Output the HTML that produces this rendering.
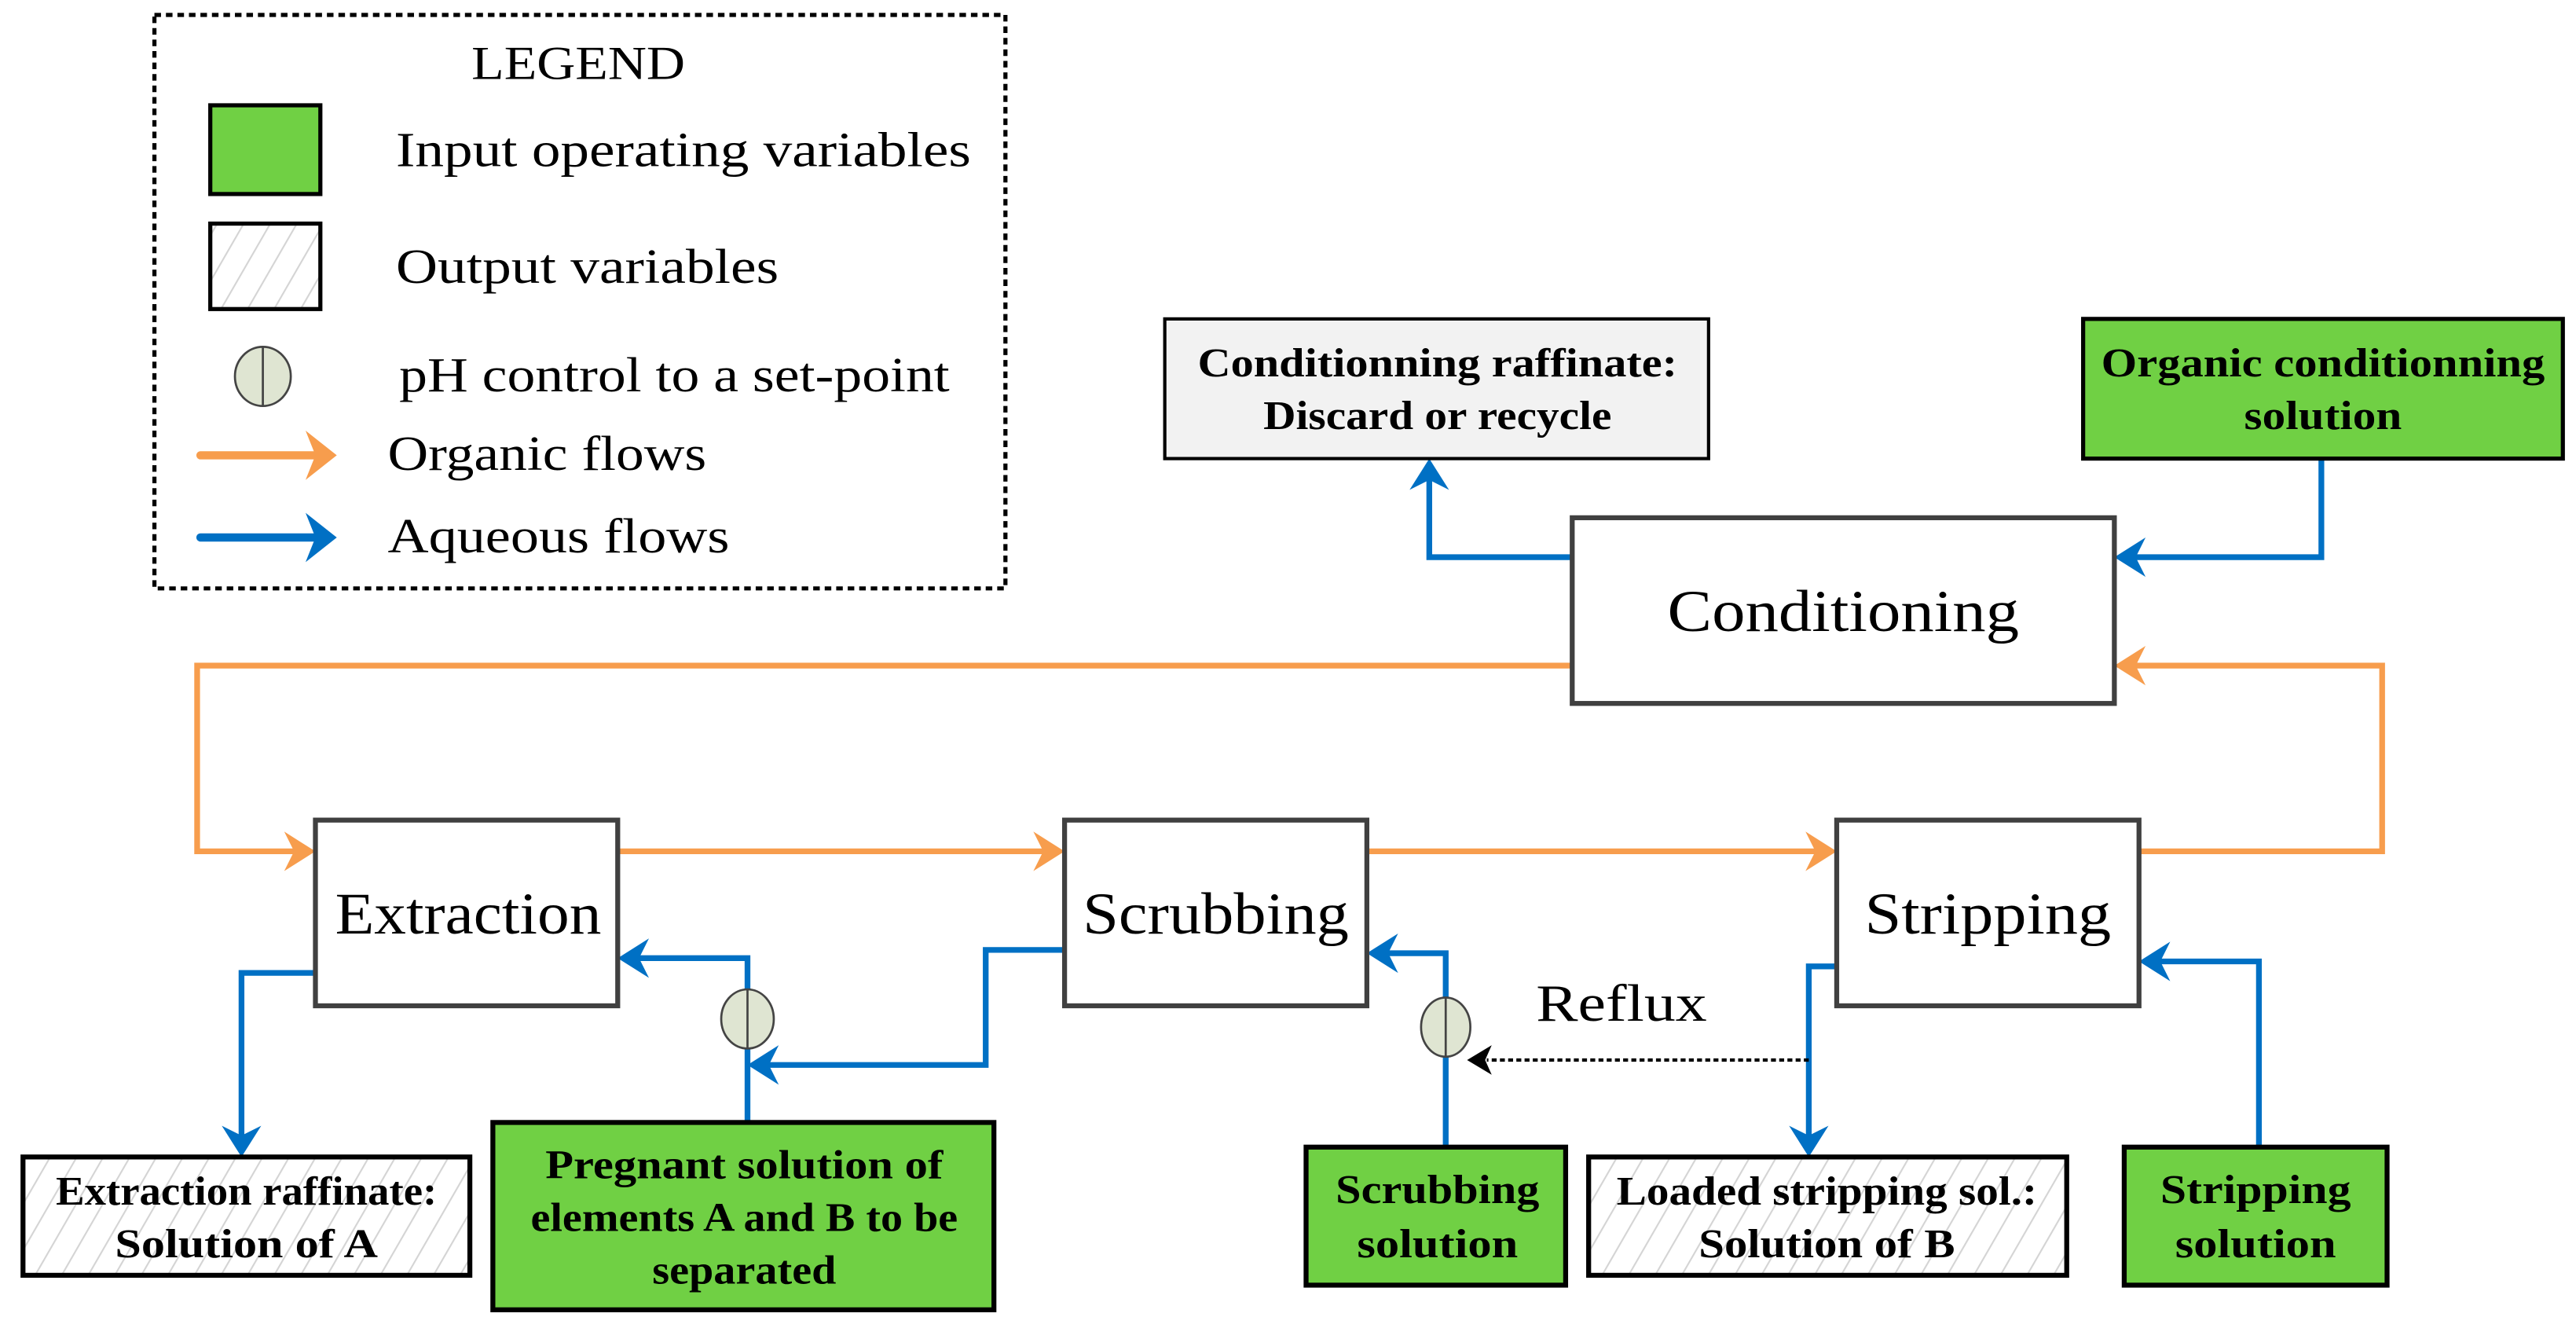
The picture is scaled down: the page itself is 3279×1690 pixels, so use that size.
<!DOCTYPE html>
<html><head><meta charset="utf-8"><style>html,body{margin:0;padding:0;background:#fff}svg{display:block}</style></head>
<body>
<svg width="3279" height="1690" viewBox="0 0 1568 808" xmlns="http://www.w3.org/2000/svg" font-family="Liberation Serif, serif">
<defs>
<pattern id="h" width="14" height="14" patternUnits="userSpaceOnUse" patternTransform="rotate(30)">
<rect width="14" height="14" fill="#fff"/><line x1="0" y1="0" x2="0" y2="14" stroke="#d4d4d4" stroke-width="2"/></pattern>
<marker id="ao" markerWidth="10" markerHeight="10" refX="9" refY="5" orient="auto" markerUnits="userSpaceOnUse" viewBox="0 0 10 10"></marker>
</defs>
<g fill="none" stroke-linecap="butt">
<!-- legend -->
<rect x="94" y="9" width="518" height="349" stroke="#000" stroke-width="2.5" stroke-dasharray="4,3"/>
</g>
<text x="352" y="48" font-size="29" text-anchor="middle" textLength="130" lengthAdjust="spacingAndGlyphs">LEGEND</text>
<rect x="128" y="64" width="67" height="54" fill="#70d044" stroke="#000" stroke-width="2.5"/>
<rect x="128" y="136" width="67" height="52" fill="url(#h)" stroke="#000" stroke-width="2.5"/>
<ellipse cx="160" cy="229" rx="17" ry="18" fill="#dfe5d2" stroke="#444" stroke-width="1.3"/>
<line x1="160" y1="211" x2="160" y2="247" stroke="#444" stroke-width="1.3"/>
<text x="241" y="101" font-size="30" textLength="350" lengthAdjust="spacingAndGlyphs">Input operating variables</text>
<text x="241" y="172" font-size="30" textLength="233" lengthAdjust="spacingAndGlyphs">Output variables</text>
<text x="243" y="238" font-size="30" textLength="335" lengthAdjust="spacingAndGlyphs">pH control to a set-point</text>
<text x="236" y="286" font-size="30" textLength="194" lengthAdjust="spacingAndGlyphs">Organic flows</text>
<text x="236" y="336" font-size="30" textLength="208" lengthAdjust="spacingAndGlyphs">Aqueous flows</text>
<line x1="122" y1="277" x2="195" y2="277" stroke="#f79d4d" stroke-width="5" stroke-linecap="round"/>
<polygon points="205,277 186,262 192,277 186,292" fill="#f79d4d"/>
<line x1="122" y1="327" x2="195" y2="327" stroke="#0070c4" stroke-width="5" stroke-linecap="round"/>
<polygon points="205,327 186,312 192,327 186,342" fill="#0070c4"/>

<!-- orange flows -->
<g fill="none" stroke="#f79d4d" stroke-width="3.5">
<polyline points="957,405 120,405 120,518 185,518"/>
<polyline points="376,518 641,518"/>
<polyline points="832,518 1111,518"/>
<polyline points="1302,518 1450,518 1450,405 1294,405"/>
</g>
<g fill="#f79d4d">
<polygon points="192,518 173,506 179,518 173,530"/>
<polygon points="648,518 629,506 635,518 629,530"/>
<polygon points="1118,518 1099,506 1105,518 1099,530"/>
<polygon points="1287,405 1306,393 1300,405 1306,417"/>
</g>
<!-- blue flows -->
<g fill="none" stroke="#0070c4" stroke-width="3.5">
<polyline points="1413,279 1413,339 1294,339"/>
<polyline points="957,339 870,339 870,287"/>
<polyline points="192,592 147,592 147,697"/>
<polyline points="455,683 455,583 383,583"/>
<polyline points="648,578 600,578 600,648 462,648"/>
<polyline points="880,698 880,580 839,580"/>
<polyline points="1118,588 1101,588 1101,697"/>
<polyline points="1375,698 1375,585 1309,585"/>
</g>
<g fill="#0070c4">
<polygon points="1287,339 1306,327 1300,339 1306,351"/>
<polygon points="870,279 858,298 870,292 882,298"/>
<polygon points="147,704 135,685 147,691 159,685"/>
<polygon points="376,583 395,571 389,583 395,595"/>
<polygon points="455,648 474,636 468,648 474,660"/>
<polygon points="832,580 851,568 845,580 851,592"/>
<polygon points="1101,704 1089,685 1101,691 1113,685"/>
<polygon points="1302,585 1321,573 1315,585 1321,597"/>
</g>
<line x1="1101" y1="645" x2="905" y2="645" stroke="#000" stroke-width="2" stroke-dasharray="3,2"/>
<polygon points="893,645 908,636 904,645 908,654" fill="#000"/>
<ellipse cx="455" cy="620" rx="16" ry="18" fill="#dfe5d2" stroke="#444" stroke-width="1.3"/>
<line x1="455" y1="602" x2="455" y2="638" stroke="#444" stroke-width="1.3"/>
<ellipse cx="880" cy="625" rx="15" ry="18" fill="#dfe5d2" stroke="#444" stroke-width="1.3"/>
<line x1="880" y1="607" x2="880" y2="643" stroke="#444" stroke-width="1.3"/>
<text x="935" y="621" font-size="32" textLength="104" lengthAdjust="spacingAndGlyphs">Reflux</text>

<!-- process boxes -->
<g fill="#fff" stroke="#404040" stroke-width="3">
<rect x="957" y="315" width="330" height="113"/>
<rect x="192" y="499" width="184" height="113"/>
<rect x="648" y="499" width="184" height="113"/>
<rect x="1118" y="499" width="184" height="113"/>
</g>
<g font-size="36" text-anchor="middle">
<text x="1122" y="384" textLength="214" lengthAdjust="spacingAndGlyphs">Conditioning</text>
<text x="285" y="568" textLength="162" lengthAdjust="spacingAndGlyphs">Extraction</text>
<text x="740" y="568" textLength="162" lengthAdjust="spacingAndGlyphs">Scrubbing</text>
<text x="1210" y="568" textLength="150" lengthAdjust="spacingAndGlyphs">Stripping</text>
</g>

<!-- in/out boxes -->
<rect x="709" y="194" width="331" height="85" fill="#f2f2f2" stroke="#000" stroke-width="2"/>
<rect x="1268" y="194" width="292" height="85" fill="#70d044" stroke="#000" stroke-width="2.5"/>
<rect x="14" y="704" width="272" height="72" fill="url(#h)" stroke="#000" stroke-width="3"/>
<rect x="300" y="683" width="305" height="114" fill="#70d044" stroke="#000" stroke-width="3"/>
<rect x="795" y="698" width="158" height="84" fill="#70d044" stroke="#000" stroke-width="3"/>
<rect x="967" y="704" width="291" height="72" fill="url(#h)" stroke="#000" stroke-width="3"/>
<rect x="1293" y="698" width="160" height="84" fill="#70d044" stroke="#000" stroke-width="3"/>
<g font-size="25" font-weight="bold" text-anchor="middle">
<text x="875" y="229" textLength="292" lengthAdjust="spacingAndGlyphs">Conditionning raffinate:</text>
<text x="875" y="261" textLength="212" lengthAdjust="spacingAndGlyphs">Discard or recycle</text>
<text x="1414" y="229" textLength="270" lengthAdjust="spacingAndGlyphs">Organic conditionning</text>
<text x="1414" y="261" textLength="96" lengthAdjust="spacingAndGlyphs">solution</text>
<text x="150" y="733" textLength="232" lengthAdjust="spacingAndGlyphs">Extraction raffinate:</text>
<text x="150" y="765" textLength="160" lengthAdjust="spacingAndGlyphs">Solution of A</text>
<text x="453" y="717" textLength="242" lengthAdjust="spacingAndGlyphs">Pregnant solution of</text>
<text x="453" y="749" textLength="260" lengthAdjust="spacingAndGlyphs">elements A and B to be</text>
<text x="453" y="781" textLength="112" lengthAdjust="spacingAndGlyphs">separated</text>
<text x="875" y="732" textLength="124" lengthAdjust="spacingAndGlyphs">Scrubbing</text>
<text x="875" y="765" textLength="98" lengthAdjust="spacingAndGlyphs">solution</text>
<text x="1112" y="733" textLength="256" lengthAdjust="spacingAndGlyphs">Loaded stripping sol.:</text>
<text x="1112" y="765" textLength="156" lengthAdjust="spacingAndGlyphs">Solution of B</text>
<text x="1373" y="732" textLength="116" lengthAdjust="spacingAndGlyphs">Stripping</text>
<text x="1373" y="765" textLength="98" lengthAdjust="spacingAndGlyphs">solution</text>
</g>
</svg>
</body></html>
